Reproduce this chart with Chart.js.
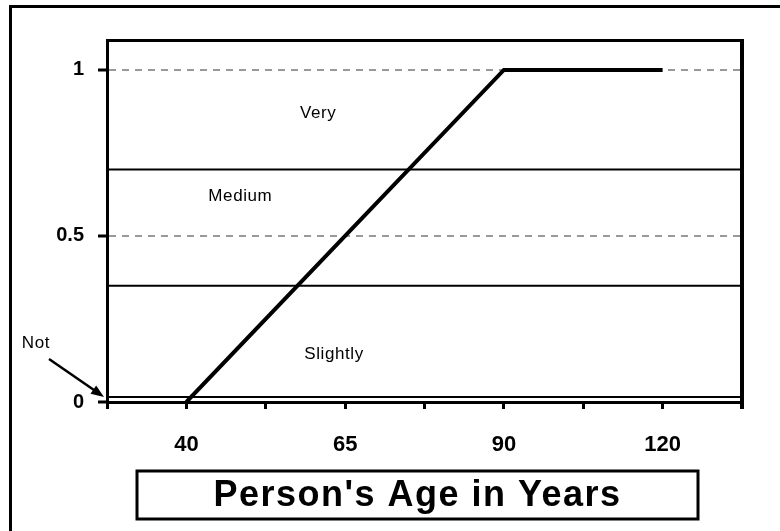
<!DOCTYPE html>
<html>
<head>
<meta charset="utf-8">
<script src="https://cdn.jsdelivr.net/npm/chart.js@4.4.0/dist/chart.umd.min.js"></script>
<style>
  html, body { margin: 0; padding: 0; background: #fff; overflow: hidden; }
  #wrap { position: relative; width: 780px; height: 531px; }
  #frame { position: absolute; left: 9px; top: 5px; width: 800px; height: 560px; border: 3px solid #000; box-sizing: border-box; }
  canvas { position: absolute; left: 0; top: 0; }
</style>
</head>
<body>
<div id="wrap">
  <div id="frame"></div>
  <canvas id="chart" width="780" height="531"></canvas>
</div>
<script>
// x axis slots, only every other one carries an age label
const xLabels = ['', '40', '', '65', '', '90', '', '120', ''];
// membership curve
const ages = ['40', '65', '90', '120'];
const membership = [0, 0.5, 1, 1];
// class boundaries (solid lines) and y ticks
const boundaries = [0.015, 0.35, 0.7];
const yTicks = [0, 0.5, 1];
const bandNames = ['Not', 'Slightly', 'Medium', 'Very'];
const axisTitle = "Person's Age in Years";

const FONT = '"Liberation Sans", Arial, sans-serif';

// extra drawing: box edges, band names, arrow, boxed axis title
const decor = {
  id: 'decor',
  afterDraw(chart) {
    const { ctx, chartArea: ca, scales: { x, y } } = chart;
    ctx.save();
    ctx.strokeStyle = '#000';
    ctx.fillStyle = '#000';

    // top + right edge of the plot box
    ctx.lineWidth = 3;
    ctx.beginPath();
    ctx.moveTo(ca.left, ca.top + 0.5);
    ctx.lineTo(ca.right, ca.top + 0.5);
    ctx.stroke();
    ctx.lineWidth = 4;
    ctx.beginPath();
    ctx.moveTo(ca.right, ca.top - 1);
    ctx.lineTo(ca.right, ca.bottom + 7);
    ctx.stroke();

    // band names
    ctx.font = '17px ' + FONT;
    ctx.letterSpacing = '0.6px';
    ctx.textAlign = 'center';
    ctx.textBaseline = 'middle';
    const spots = [[2.86, 0.145], [1.68, 0.62], [2.66, 0.87]];
    spots.forEach((p, i) => {
      ctx.fillText(bandNames[i + 1], x.getPixelForValue(p[0]), y.getPixelForValue(p[1]));
    });

    // "Not" with its arrow
    const tx = x.getPixelForValue(0) - 3;
    const ty = y.getPixelForValue(boundaries[0]);
    ctx.fillText(bandNames[0], tx - 68, ty - 54);
    const sx = tx - 55, sy = ty - 38;
    const ang = Math.atan2(ty - sy, tx - sx);
    ctx.lineWidth = 2.5;
    ctx.beginPath();
    ctx.moveTo(sx, sy);
    ctx.lineTo(tx - 10 * Math.cos(ang), ty - 10 * Math.sin(ang));
    ctx.stroke();
    ctx.beginPath();
    ctx.moveTo(tx, ty);
    ctx.lineTo(tx - 13 * Math.cos(ang) + 5 * Math.sin(ang), ty - 13 * Math.sin(ang) - 5 * Math.cos(ang));
    ctx.lineTo(tx - 13 * Math.cos(ang) - 5 * Math.sin(ang), ty - 13 * Math.sin(ang) + 5 * Math.cos(ang));
    ctx.closePath();
    ctx.fill();

    // boxed axis title
    const bx = ca.left + 30, bw = ca.right - 44 - bx, by = ca.bottom + 69, bh = 48;
    ctx.lineWidth = 3;
    ctx.strokeRect(bx, by, bw, bh);
    ctx.font = 'bold 36px ' + FONT;
    ctx.letterSpacing = '1.5px';
    ctx.fillText(axisTitle, bx + bw / 2, by + bh / 2 + 1);
    ctx.restore();
  }
};

const datasets = [{
  data: ages.map((a, i) => ({ x: a, y: membership[i] })),
  borderColor: '#000',
  borderWidth: 4,
  pointRadius: 0,
  tension: 0
}];
boundaries.forEach(b => {
  datasets.push({
    data: xLabels.map(() => b),
    borderColor: '#000',
    borderWidth: 2,
    pointRadius: 0
  });
});

new Chart(document.getElementById('chart'), {
  type: 'line',
  data: { labels: xLabels, datasets: datasets },
  options: {
    responsive: false,
    animation: false,
    devicePixelRatio: 1,
    layout: { padding: { left: 10, right: 38, top: 40, bottom: 0 } },
    plugins: { legend: { display: false }, tooltip: { enabled: false } },
    scales: {
      x: {
        type: 'category',
        offset: false,
        grid: { drawOnChartArea: false, tickLength: 7, tickWidth: 3, tickColor: '#000' },
        border: { color: '#000', width: 3 },
        ticks: {
          autoSkip: false, maxRotation: 0, padding: 23, color: '#000',
          font: { family: FONT, size: 22, weight: 'bold' }
        },
        afterFit: s => { s.height = 129; }
      },
      y: {
        min: 0,
        max: 1.09,
        afterBuildTicks: s => { s.ticks = yTicks.map(v => ({ value: v })); },
        grid: {
          color: c => (c.tick && c.tick.value > 0 ? '#999' : 'rgba(0,0,0,0)'),
          lineWidth: 2, tickLength: 9, tickWidth: 3, tickColor: '#000', tickBorderDash: []
        },
        border: { color: '#000', width: 3, dash: [7, 6] },
        ticks: {
          padding: 14, color: '#000',
          font: { family: FONT, size: 20, weight: 'bold' },
          callback: v => String(v)
        },
        afterFit: s => { s.width = 97; }
      }
    }
  },
  plugins: [decor]
});
</script>
</body>
</html>
